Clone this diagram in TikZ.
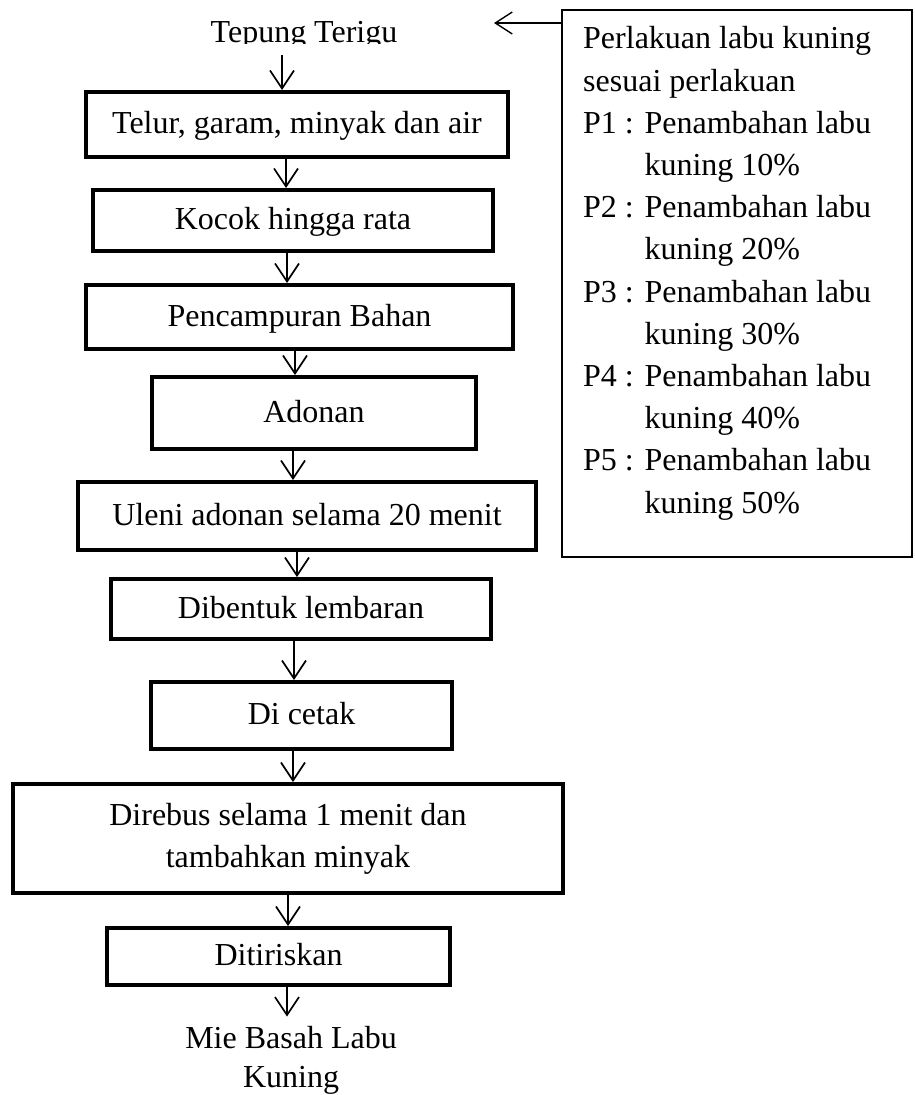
\documentclass[tikz,border=0pt]{standalone}
\usepackage{fontspec}
\setmainfont{Liberation Serif}
\usetikzlibrary{arrows.meta}
\newcommand\myfs{\fontsize{32}{42.2}\selectfont}
\begin{document}
\begin{tikzpicture}[x=1pt,y=-1pt,
  flowbox/.style={draw, line width=4pt, inner sep=0pt, font=\myfs, align=center, text height=22pt, text depth=4pt},
  plain/.style={inner sep=0pt, font=\myfs, align=center},
  arr/.style={line width=1.7pt, -{Straight Barb[length=18pt,width=24pt]}},
  thinarr/.style={line width=1.4pt, -{Straight Barb[length=17pt,width=22pt]}}]
\useasboundingbox (0,0) rectangle (915,1095);
% title (bottom of the line is cut off as in the original)
\begin{scope}
\clip (0,0) rectangle (560,43.5);
\node[plain, anchor=base] (tep) at (304,42) {Tepung Terigu};
\end{scope}
% flow boxes
\node[flowbox, minimum width=422pt, minimum height=65pt] (b1) at (297,124.5) {Telur, garam, minyak dan air};
\node[flowbox, minimum width=400pt, minimum height=61pt] (b2) at (293,220.5) {Kocok hingga rata};
\node[flowbox, minimum width=427pt, minimum height=64pt] (b3) at (299.5,317) {Pencampuran Bahan};
\node[flowbox, minimum width=324pt, minimum height=72pt] (b4) at (314,413) {Adonan};
\node[flowbox, minimum width=458pt, minimum height=68pt] (b5) at (307,516) {Uleni adonan selama 20 menit};
\node[flowbox, minimum width=380pt, minimum height=60pt] (b6) at (301,609) {Dibentuk lembaran};
\node[flowbox, minimum width=301pt, minimum height=67pt] (b7) at (301.5,715.5) {Di cetak};
\node[flowbox, minimum width=550pt, minimum height=109pt, text height=, text depth=] (b8) at (288,838.5) {Direbus selama 1 menit dan\\tambahkan minyak};
\node[flowbox, minimum width=343pt, minimum height=57pt] (b9) at (278.5,956.5) {Ditiriskan};
\node[plain, anchor=base, font=\fontsize{32}{39}\selectfont] (mie) at (291,1087) {Mie Basah Labu\\Kuning};
% arrows
\draw[arr, shorten <=6pt] (282,0 |- tep.south) -- (282,0 |- b1.north);
\draw[arr] (286,0 |- b1.south) -- (286,0 |- b2.north);
\draw[arr] (287,0 |- b2.south) -- (287,0 |- b3.north);
\draw[arr] (295,0 |- b3.south) -- (295,0 |- b4.north);
\draw[arr] (293,0 |- b4.south) -- (293,0 |- b5.north);
\draw[arr] (297,0 |- b5.south) -- (297,0 |- b6.north);
\draw[arr] (294,0 |- b6.south) -- (294,0 |- b7.north);
\draw[arr] (293,0 |- b7.south) -- (293,0 |- b8.north);
\draw[arr] (288,0 |- b8.south) -- (288,0 |- b9.north);
\draw[arr, shorten >=9pt] (287,0 |- b9.south) -- (287,0 |- mie.north);
% treatment box
\node[draw, line width=1.4pt, minimum width=350pt, minimum height=547pt, inner sep=0pt] (pbox) at (737,283.5) {};
\node[inner sep=0pt, font=\myfs, align=left, anchor=base west] (ptext) at (583,513)
 {Perlakuan labu kuning\\
  sesuai perlakuan\\
  P1 : Penambahan labu\\
  \hphantom{P1 : }kuning 10\%\\
  P2 : Penambahan labu\\
  \hphantom{P2 : }kuning 20\%\\
  P3 : Penambahan labu\\
  \hphantom{P3 : }kuning 30\%\\
  P4 : Penambahan labu\\
  \hphantom{P4 : }kuning 40\%\\
  P5 : Penambahan labu\\
  \hphantom{P5 : }kuning 50\%};
\coordinate (ptip) at (494,23);
\draw[thinarr] (pbox.west |- ptip) -- (ptip);
\end{tikzpicture}
\end{document}
